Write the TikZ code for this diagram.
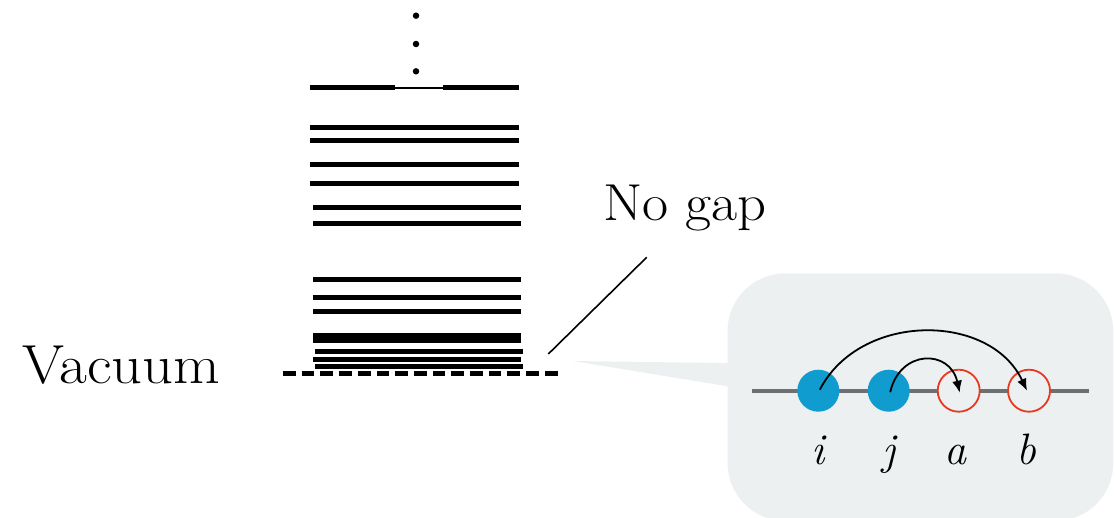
\documentclass[tikz,border=0pt]{standalone}
\usetikzlibrary{arrows.meta}

\definecolor{bubblegray}{HTML}{ECF0F1}
\definecolor{occblue}{HTML}{119CD0}
\definecolor{virtred}{HTML}{E8391F}
\definecolor{axisgray}{HTML}{6E6F71}

\begin{document}
\begin{tikzpicture}[x=1pt,y=-1pt,
  level/.style={line width=5pt},
  wide level/.style={line width=10pt},
  occ/.style={circle,fill=occblue,minimum size=42pt,inner sep=0pt},
  virt/.style={circle,draw=virtred,line width=1.8pt,fill=bubblegray,minimum size=42pt,inner sep=0pt},
  excite/.style={line width=1.8pt,-{Latex[length=12pt,width=10pt]}},
  orblabel/.style={font=\fontsize{44}{50}\selectfont\itshape,anchor=base,inner sep=0pt},
  bigtext/.style={anchor=base west,inner sep=0pt},
  dot/.style={circle,fill=black,minimum size=6.5pt,inner sep=0pt}
]
\useasboundingbox (0,0) rectangle (1115,517);

% continuation dots above the spectrum
\node[dot] (d1) at (416,15.7) {};
\node[dot] (d2) at (416,44) {};
\node[dot] (d3) at (416,71.3) {};

% top level, thinned where the dots sit
\draw[level] (310,87) -- (394.7,87);
\draw[level] (443.3,87) -- (518.7,87);
\draw[line width=2.4pt] (394.7,88.2) -- (443.3,88.2);

% energy levels
\foreach \y in {127.3,140.3,164.7,183.3}
  \draw[level] (310,\y) -- (518.7,\y);
\foreach \y in {207,223.3,279.3,297.7,311,359.2}
  \draw[level] (312.7,\y) -- (521,\y);
\draw[wide level] (312.7,337.7) -- (521,337.7);
\foreach \y in {351.2,366.8}
  \draw[level] (315,\y) -- (523.3,\y);

% vacuum reference line
\draw[line width=4.7pt,dash pattern=on 12.7pt off 6pt] (283,373.3) -- (558,373.3);

% labels
\node[bigtext,xscale=1.1,font=\fontsize{55}{60}\selectfont] (vac) at (22,383.3) {Vacuum};
\node[bigtext,xscale=1.09,font=\fontsize{52}{58}\selectfont] (nogap) at (603,220) {No gap};
\coordinate (ptrA) at (646.7,257.3);
\coordinate (ptrB) at (548.3,354);
\draw[line width=1.6pt] (ptrA) -- (ptrB);

% callout bubble
\fill[bubblegray] (573,361) -- (740,363.3) -- (740,388.3) -- cycle;
\fill[bubblegray,rounded corners=58pt] (727.5,273.3) rectangle (1113.3,521);

% orbital axis
\draw[axisgray,line width=4pt] (752.3,390.7) -- (1089,390.7);

% occupied and virtual orbitals
\node[occ] (i) at (818.3,390.7) {};
\node[occ] (j) at (888.7,390.7) {};
\node[virt] (a) at (958.7,390.7) {};
\node[virt] (b) at (1029,390.7) {};

\node[orblabel] (li) at (818.3,464) {i};
\node[orblabel] (lj) at (888.7,464) {j};
\node[orblabel] (la) at (955,464) {a};
\node[orblabel] (lb) at (1026,464) {b};

% excitations
\draw[excite] ([shift={(1.5pt,1pt)}]i.center) .. controls (860,312) and (990,312) .. ([shift={(-2pt,0pt)}]b.center);
\draw[excite] ([shift={(1.5pt,-1.5pt)}]j.center) .. controls (900,349) and (950,349) .. ([shift={(1pt,-2pt)}]a.center);
\end{tikzpicture}
\end{document}
